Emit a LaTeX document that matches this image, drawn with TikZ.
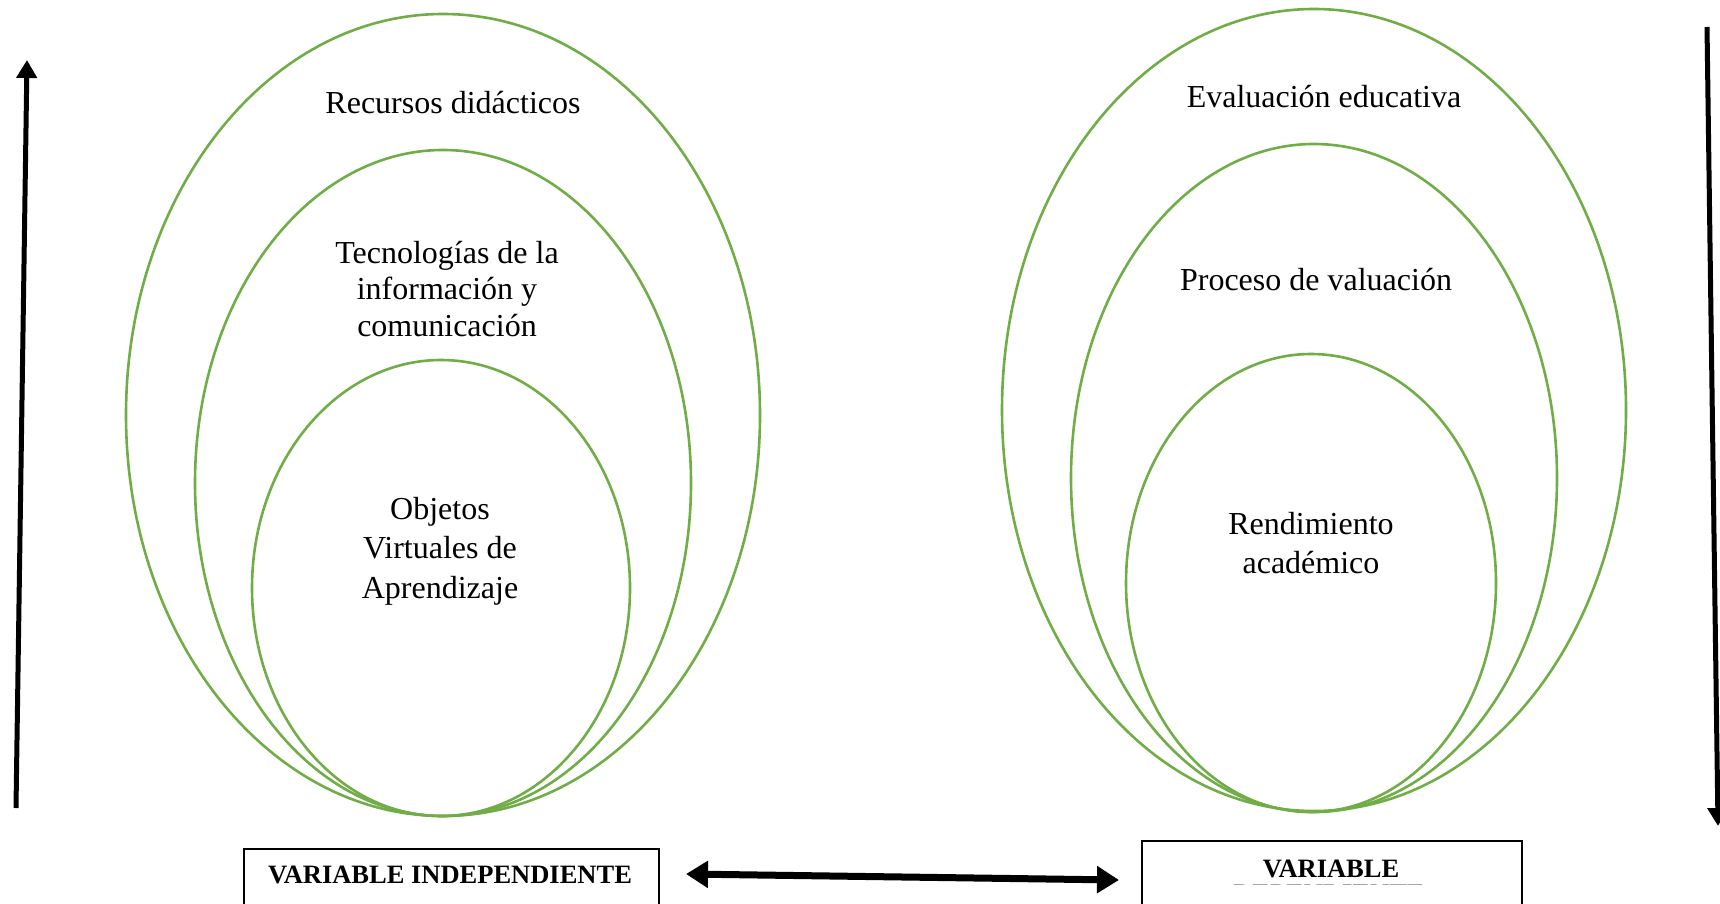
\documentclass[tikz,border=0pt]{standalone}
\usepackage{fontspec}
\setmainfont{Liberation Serif}
\usetikzlibrary{arrows.meta}
\definecolor{ogreen}{RGB}{112,173,71}
\tikzset{
  ring/.style={draw=ogreen, line width=2.6pt},
  lbl/.style={font=\fontsize{32}{36.5}\selectfont, align=center, inner sep=0pt},
  vbox/.style={draw=black, line width=2.2pt},
  vtxt/.style={font=\fontsize{26.5}{30}\selectfont\bfseries, inner sep=0pt, anchor=base},
  bigarrow/.style={line width=5pt, -{Triangle[length=18pt,width=20pt]}},
}
\begin{document}
\begin{tikzpicture}[x=1pt,y=-1pt]
\useasboundingbox (0,0) rectangle (1720,904);
% left ellipses
\draw[ring] (443,415) ellipse (317 and 401);
\draw[ring] (443,483) ellipse (248 and 333);
\draw[ring] (441,588) ellipse (189 and 228);
% right ellipses
\draw[ring] (1314,410) ellipse (312 and 401);
\draw[ring] (1314,478) ellipse (243 and 334);
\draw[ring] (1311,583) ellipse (185 and 229);
% labels
\node[lbl] (t1) at (453,103) {Recursos didácticos};
\node[lbl] (t2) at (447,289) {Tecnologías de la\\información y\\comunicación};
\node[lbl, font=\fontsize{32}{39.5}\selectfont] (t3) at (440,551) {Objetos\\Virtuales de\\Aprendizaje};
\node[lbl] (r1) at (1324,97) {Evaluación educativa};
\node[lbl] (r2) at (1316,280) {Proceso de valuación};
\node[lbl, font=\fontsize{32}{39.5}\selectfont] (r3) at (1311,543) {Rendimiento\\académico};
% vertical arrows
\coordinate (la0) at (16,808);
\coordinate (la1) at (27,60);
\draw[bigarrow] (la0) -- (la1);
\coordinate (ra0) at (1707,27);
\coordinate (ra1) at (1718,826);
\draw[bigarrow] (ra0) -- (ra1);
% boxes
\node[vbox, minimum width=415pt, minimum height=70pt, anchor=north west, inner sep=0pt] (vi) at (243,848) {};
\node[vtxt] (vit) at (450,883) {VARIABLE INDEPENDIENTE};
\node[vbox, minimum width=380pt, minimum height=70pt, anchor=north west, inner sep=0pt] (vd) at (1141,840) {};
\node[vtxt] (vdt) at (1331,877) {VARIABLE};
\begin{scope}
\clip (1141,840) rectangle (1521,884);
\node[vtxt] (vdt2) at (1329,902) {DEPENDIENTE};
\end{scope}
% double arrow
\coordinate (da0) at (686,874);
\coordinate (da1) at (1119,880);
\draw[line width=7pt, {Triangle[length=22pt,width=26pt]}-{Triangle[length=22pt,width=26pt]}] (da0) -- (da1);
\end{tikzpicture}
\end{document}
